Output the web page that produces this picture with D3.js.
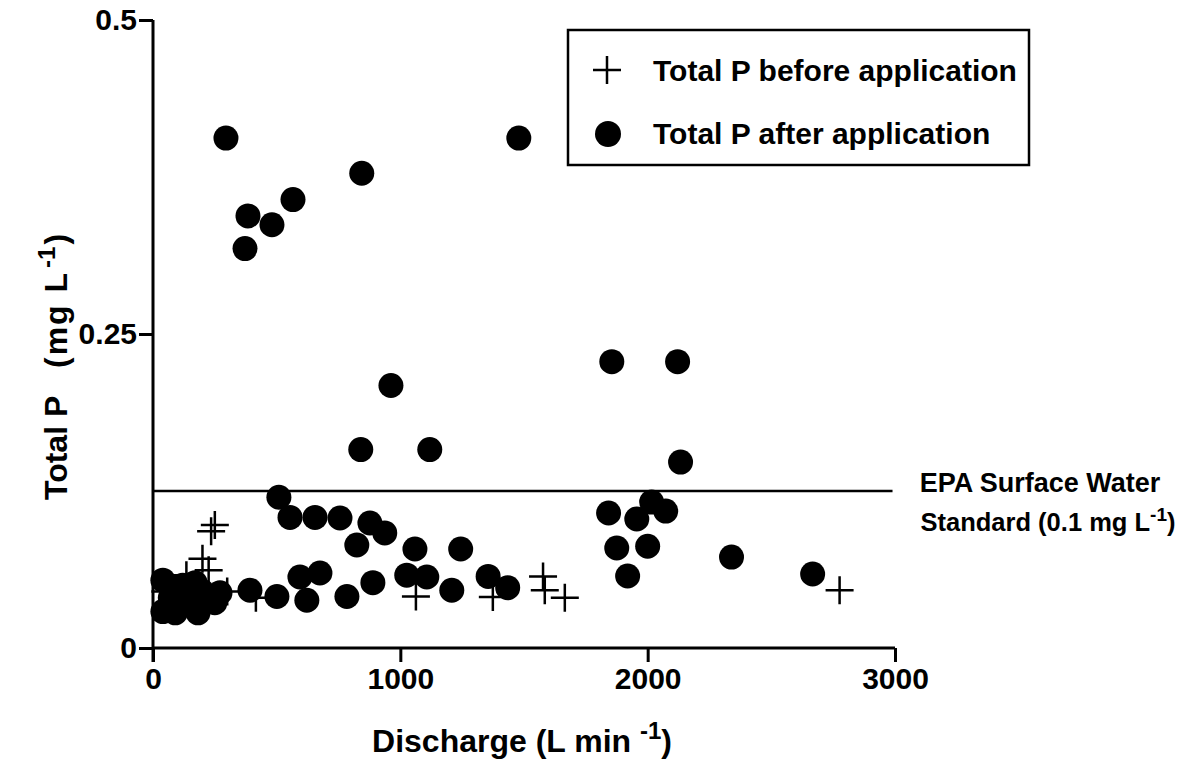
<!DOCTYPE html>
<html><head><meta charset="utf-8">
<script src="https://cdn.jsdelivr.net/npm/d3@7"></script>
<style>body{margin:0;background:#fff}svg{display:block}text{font-family:"Liberation Sans",Arial,Helvetica,sans-serif;font-weight:bold;fill:#000}</style>
</head><body>
<svg id="c" width="1189" height="761"></svg>
<script>
// After application (circles)
const afterX = [295,384,372,481,566,844,1479,962,840,1119,1855,2121,2133,
  509,554,655,756,877,937,824,1059,1244,
  1842,1956,2016,2073,1875,2000,1919,2339,2667,
  40,40,182,271,392,501,594,675,622,784,889,1026,1107,1208,1355,1434,
  100,130,230,70,150,200,250,90,120,170,60];
const afterY = [0.406,0.344,0.318,0.337,0.357,0.378,0.406,0.209,0.158,0.158,0.228,0.228,0.148,
  0.120,0.104,0.104,0.1035,0.0995,0.0916,0.082,0.0788,0.0788,
  0.1075,0.1027,0.1162,0.109,0.0796,0.081,0.0573,0.0724,0.0589,
  0.054,0.029,0.028,0.044,0.046,0.041,0.0565,0.0597,0.038,0.041,0.052,0.058,0.0565,0.046,0.057,0.048,
  0.045,0.035,0.038,0.040,0.050,0.045,0.036,0.028,0.05,0.052,0.032];
// Before application (crosses)
const beforeX = [235,250,200,135,225,416,1063,1374,1577,1584,1665,2776,50,100,300];
const beforeY = [0.093,0.098,0.071,0.058,0.062,0.040,0.041,0.0406,0.057,0.046,0.040,0.046,0.045,0.040,0.045];
const xTicks = [0,1000,2000,3000];
const yTicks = [0,0.25,0.5];
const yTickLabels = ["0","0.25","0.5"];
const epaLevel = 0.125;
const legendLabels = ["Total P before application","Total P after application"];

const svg = d3.select("#c");
const x = d3.scaleLinear().domain([0,3000]).range([153,895]);
const y = d3.scaleLinear().domain([0,0.5]).range([648,20]);

// axes
const xAxis = d3.axisBottom(x).tickValues(xTicks).tickFormat(d3.format("d")).tickSize(14).tickPadding(4);
const yAxis = d3.axisLeft(y).tickValues(yTicks).tickFormat((d,i)=>yTickLabels[i]).tickSize(14).tickPadding(2);
const gx = svg.append("g").attr("transform","translate(0,648)").call(xAxis);
const gy = svg.append("g").attr("transform","translate(153,0)").call(yAxis);
[gx,gy].forEach(g=>{
  g.select(".domain").attr("stroke","#000").attr("stroke-width",3);
  g.selectAll(".tick line").attr("stroke","#000").attr("stroke-width",3);
  g.selectAll(".tick text").style("font-size","30px").style("font-family",'"Liberation Sans",Arial,sans-serif').style("font-weight","bold").attr("fill","#000");
});
gx.select(".domain").attr("d","M153,0H895");
gy.select(".domain").attr("d","M0,20V662");
gx.selectAll(".tick text").attr("dy","0.75em");

// EPA line
svg.append("line").attr("x1",x(0)).attr("x2",x(2990)).attr("y1",y(epaLevel)).attr("y2",y(epaLevel))
  .attr("stroke","#000").attr("stroke-width",2.5);

// points
svg.append("g").selectAll("circle").data(afterX).join("circle")
  .attr("cx",(d)=>x(d)).attr("cy",(d,i)=>y(afterY[i])).attr("r",12.5).attr("fill","#000");
const cs = 14;
const crossPath = (cx,cy)=>`M${cx-cs},${cy}H${cx+cs}M${cx},${cy-cs}V${cy+cs}`;
svg.append("g").selectAll("path").data(beforeX).join("path")
  .attr("d",(d,i)=>crossPath(x(d),y(beforeY[i])))
  .attr("stroke","#000").attr("stroke-width",2.5).attr("fill","none");

// legend
svg.append("rect").attr("x",568).attr("y",30).attr("width",461).attr("height",135)
  .attr("fill","#fff").attr("stroke","#000").attr("stroke-width",2.5);
svg.append("path").attr("d",crossPath(607,70)).attr("stroke","#000").attr("stroke-width",2.5);
svg.append("circle").attr("cx",608).attr("cy",134).attr("r",13).attr("fill","#000");
svg.append("text").attr("x",653).attr("y",81).style("font-size","30px").text(legendLabels[0]);
svg.append("text").attr("x",653).attr("y",144).style("font-size","30px").text(legendLabels[1]);

// EPA text
svg.append("text").attr("x",1040).attr("y",492).attr("text-anchor","middle").style("font-size","27px").text("EPA Surface Water");
const t2 = svg.append("text").attr("x",1048).attr("y",531).attr("text-anchor","middle").style("font-size","25.5px");
t2.append("tspan").text("Standard  (0.1 mg L");
t2.append("tspan").attr("dy",-10).style("font-size","19px").text("-1");
t2.append("tspan").attr("dy",10).text(")");

// x title
const xt = svg.append("text").attr("x",522).attr("y",752).attr("text-anchor","middle").style("font-size","32px");
xt.append("tspan").text("Discharge (L min ");
xt.append("tspan").attr("dy",-13).style("font-size","24px").text("-1");
xt.append("tspan").attr("dy",13).text(")");

// y title
const yt = svg.append("text").attr("transform","translate(67,500) rotate(-90)").attr("text-anchor","start").style("font-size","32px");
yt.append("tspan").text("Total P");
yt.append("tspan").attr("x",132).style("letter-spacing","2px").text("(mg L");
yt.append("tspan").attr("dx",3).attr("dy",-12).style("font-size","24px").text("-1");
yt.append("tspan").attr("dx",2).attr("dy",12).text(")");
</script>
</body></html>
